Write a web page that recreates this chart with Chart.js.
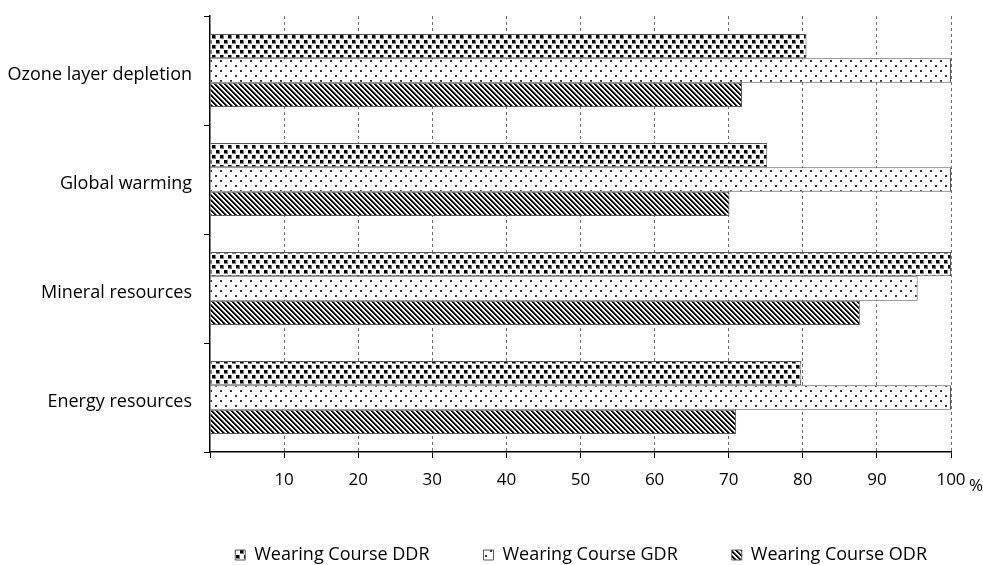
<!DOCTYPE html>
<html>
<head>
<meta charset="utf-8">
<script src="https://cdn.jsdelivr.net/npm/chart.js@4/dist/chart.umd.min.js"></script>
<style>
  html, body { margin: 0; padding: 0; background: #ffffff; }
  #wrap { width: 983px; height: 565px; position: relative; }
</style>
</head>
<body>
<div id="wrap"><canvas id="chart" width="983" height="565"></canvas></div>
<script>
// Impact categories (top to bottom)
const categories = ['Ozone layer depletion', 'Global warming', 'Mineral resources', 'Energy resources'];

// Relative impact per wearing course, in %
const seriesNames = ['Wearing Course DDR', 'Wearing Course GDR', 'Wearing Course ODR'];
const ddrValues = [80.5, 75.2, 100, 79.8];
const gdrValues = [100, 100, 95.5, 100];
const odrValues = [71.8, 70.1, 87.7, 71.0];

// Value axis
const xMin = 0;
const xMax = 100;
const xStep = 10;
const xUnit = '%';

const FONT = '"Open Sans", "Noto Sans", sans-serif';

// --- fill patterns -------------------------------------------------------
function makePattern(w, h, paint) {
  const c = document.createElement('canvas');
  c.width = w; c.height = h;
  const g = c.getContext('2d');
  g.fillStyle = '#ffffff';
  g.fillRect(0, 0, w, h);
  paint(g);
  return c.getContext('2d').createPattern(c, 'repeat');
}

// staggered black squares
const ddrPattern = makePattern(8, 10, g => {
  g.fillStyle = '#808080';
  g.fillRect(0, 0, 4, 4);
  g.fillRect(4, 5, 4, 4);
  g.fillStyle = '#000000';
  g.fillRect(0, 0, 3, 3);
  g.fillRect(4, 5, 3, 3);
});

// fine dots
const gdrPattern = makePattern(10, 10, g => {
  g.fillStyle = '#333333';
  g.fillRect(0, 0, 2, 2);
  g.fillRect(5, 5, 2, 2);
});

// downward diagonal stripes
const odrPattern = makePattern(5, 5, g => {
  for (let y = 0; y < 5; y++) {
    for (let x = 0; x < 5; x++) {
      const d = ((x - y) % 5 + 5) % 5;
      if (d === 0 || d === 1) { g.fillStyle = '#000000'; g.fillRect(x, y, 1, 1); }
      else if (d === 2) { g.fillStyle = '#7a7a7a'; g.fillRect(x, y, 1, 1); }
    }
  }
});

// unit label next to the last value tick
const unitLabel = {
  id: 'unitLabel',
  afterDraw(chart) {
    const x = chart.scales.x;
    const ctx = chart.ctx;
    ctx.save();
    ctx.font = '17px ' + FONT;
    ctx.fillStyle = '#000000';
    ctx.textAlign = 'center';
    ctx.textBaseline = 'middle';
    ctx.fillText(xUnit, x.right + 25, x.top + 34);
    ctx.restore();
  }
};

const common = { borderColor: '#595959', borderWidth: 1, categoryPercentage: 0.67, barPercentage: 1.0 };

new Chart(document.getElementById('chart'), {
  type: 'bar',
  data: {
    labels: categories,
    datasets: [
      Object.assign({ label: seriesNames[0], data: ddrValues, backgroundColor: ddrPattern }, common),
      Object.assign({ label: seriesNames[1], data: gdrValues, backgroundColor: gdrPattern }, common),
      Object.assign({ label: seriesNames[2], data: odrValues, backgroundColor: odrPattern }, common)
    ]
  },
  options: {
    indexAxis: 'y',
    responsive: false,
    animation: false,
    layout: { padding: { left: 0, right: 2, top: 16, bottom: -9 } },
    plugins: {
      legend: {
        position: 'bottom',
        align: 'end',
        labels: {
          boxWidth: 10,
          boxHeight: 10,
          padding: 54,
          color: '#000000',
          font: { family: FONT, size: 18 }
        }
      },
      tooltip: { enabled: false }
    },
    scales: {
      x: {
        min: xMin,
        max: xMax,
        ticks: {
          stepSize: xStep,
          color: '#000000',
          padding: 12,
          font: { family: FONT, size: 17 },
          callback: v => (v === xMin ? '' : v)
        },
        grid: {
          color: ctx => (ctx.tick && ctx.tick.value === xMin ? 'rgba(0,0,0,0)' : '#6e6e6e'),
          tickColor: '#000000',
          tickLength: 6,
          lineWidth: 1
        },
        border: { display: true, color: '#000000', width: 1.5, dash: [3, 3] },
        afterFit(scale) {
          scale.height = 40;
          scale.paddingLeft = 0;
          scale.paddingRight = 32;
        }
      },
      y: {
        ticks: {
          color: '#000000',
          padding: 12,
          labelOffset: 4,
          font: { family: FONT, size: 18 }
        },
        grid: {
          offset: true,
          drawOnChartArea: false,
          drawTicks: true,
          tickLength: 6,
          color: '#000000',
          tickColor: '#000000'
        },
        border: { display: true, color: '#000000', width: 1.5 },
        afterFit(scale) {
          scale.width = 210;
          scale.paddingTop = 0;
          scale.paddingBottom = 0;
        }
      }
    }
  },
  plugins: [unitLabel]
});
</script>
</body>
</html>
